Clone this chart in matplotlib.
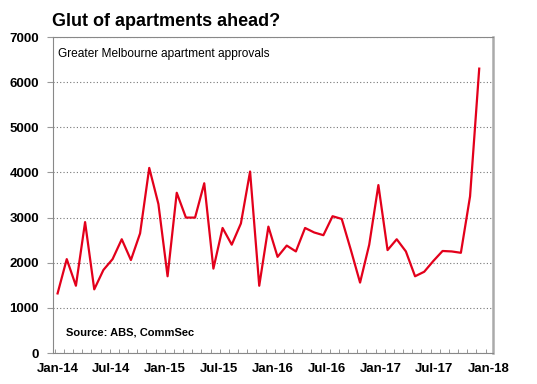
import numpy as np
import matplotlib
matplotlib.use("Agg")
import matplotlib.pyplot as plt
from matplotlib.ticker import FixedLocator, MultipleLocator

plt.rcParams['font.family'] = ['Liberation Sans', 'DejaVu Sans']

# Greater Melbourne apartment approvals, monthly Jan-14 .. Nov-17
approvals = [1320, 2080, 1490, 2900, 1410, 1840, 2080, 2520, 2060, 2650,
             4100, 3300, 1700, 3550, 3000, 3000, 3760, 1870, 2770, 2400,
             2870, 4020, 1490, 2800, 2130, 2380, 2250, 2770, 2670, 2610,
             3030, 2970, 2280, 1560, 2400, 3720, 2280, 2520, 2250, 1700,
             1800, 2040, 2260, 2250, 2220, 3470, 6300]
tick_labels = ["Jan-14", "Jul-14", "Jan-15", "Jul-15", "Jan-16",
               "Jul-16", "Jan-17", "Jul-17", "Jan-18"]

months = np.arange(len(approvals))

fig = plt.figure(figsize=(5.37, 3.84), dpi=100)
ax = fig.add_axes([0.0987, 0.0807, 0.8193, 0.8229])

ax.plot(months, approvals, color="#e3001b", lw=1.6)

ax.set_xlim(-0.5, 47.5)
ax.set_ylim(0, 7000)

# y axis
ax.yaxis.set_major_locator(MultipleLocator(1000))
ax.grid(axis="y", color="#777777", ls=(0, (1, 2)), lw=0.8)
ax.tick_params(axis="y", length=4, color="#999999", pad=6, labelsize=9.5)
for t in ax.get_yticklabels():
    t.set_fontweight("bold")

# x axis: labels spread over the months, small monthly ticks inside
ax.xaxis.set_major_locator(FixedLocator(np.linspace(0, 47, len(tick_labels))))
ax.set_xticklabels(tick_labels, fontsize=9.5, fontweight="bold")
ax.tick_params(axis="x", which="major", length=0, pad=7)
ax.xaxis.set_minor_locator(FixedLocator(np.arange(-0.3, 47.5, 1)))
ax.tick_params(axis="x", which="minor", direction="in", length=3, color="#888888")

for side in ["top", "left", "bottom"]:
    ax.spines[side].set_color("#888888")
    ax.spines[side].set_linewidth(0.8)
ax.spines["right"].set_color("#aaaaaa")
ax.spines["right"].set_linewidth(1.8)

ax.text(0.012, 0.965, "Greater Melbourne apartment approvals", transform=ax.transAxes,
        fontsize=8.6, va="top", ha="left")
ax.text(0.03, 0.065, "Source: ABS, CommSec", transform=ax.transAxes,
        fontsize=8, fontweight="bold", va="center", ha="left")

fig.text(0.097, 0.945, "Glut of apartments ahead?", fontsize=13,
         fontweight="bold", va="center", ha="left")

fig.savefig("out.png", dpi=100)
